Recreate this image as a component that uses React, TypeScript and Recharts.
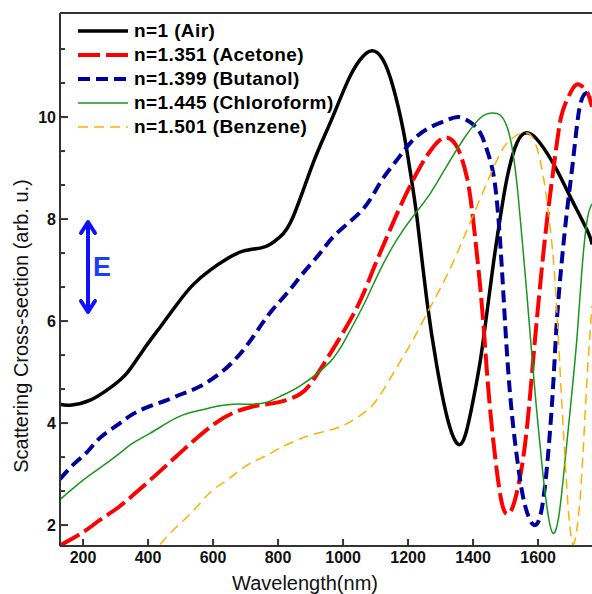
import React from 'react';
import { LineChart, Line, XAxis, YAxis, ReferenceLine, Customized } from 'recharts';

// [wavelength (nm), scattering cross-section (arb. u.)]
const air: [number, number][] = [
  [129, 4.37], [160, 4.35], [222, 4.45], [283, 4.69], [335, 4.98], [385, 5.43], [437, 5.88],
  [489, 6.33], [538, 6.71], [591, 7.0], [643, 7.22], [692, 7.37], [745, 7.43], [775, 7.5],
  [806, 7.65], [846, 8.04], [908, 9.1], [960, 9.88], [1012, 10.67], [1052, 11.12], [1089, 11.3],
  [1123, 11.12], [1154, 10.59], [1185, 9.75], [1206, 8.96], [1228, 8.0], [1258, 6.4],
  [1289, 5.1], [1320, 4.12], [1351, 3.6], [1380, 3.85], [1412, 4.84], [1431, 5.6], [1462, 7.1],
  [1483, 8.0], [1505, 8.82], [1535, 9.49], [1566, 9.69], [1606, 9.49], [1658, 8.96],
  [1698, 8.45], [1751, 7.78], [1766, 7.5],
];

const acetone: [number, number][] = [
  [129, 1.6], [200, 1.86], [252, 2.1], [305, 2.33], [354, 2.59], [406, 2.88], [458, 3.18],
  [508, 3.47], [560, 3.76], [612, 4.02], [662, 4.2], [714, 4.31], [766, 4.37], [815, 4.43],
  [868, 4.57], [908, 4.84], [969, 5.45], [1043, 6.27], [1092, 7.0], [1135, 7.65], [1185, 8.37],
  [1237, 9.02], [1277, 9.41], [1314, 9.6], [1351, 9.41], [1381, 8.82], [1400, 8.0], [1422, 6.67],
  [1437, 5.5], [1452, 4.3], [1474, 3.02], [1492, 2.35], [1508, 2.22], [1527, 2.45], [1554, 3.3],
  [1575, 4.51], [1590, 5.6], [1606, 6.67], [1628, 8.0], [1658, 9.49], [1677, 10.14],
  [1708, 10.57], [1729, 10.63], [1751, 10.49], [1766, 10.2],
];

const butanol: [number, number][] = [
  [129, 2.9], [169, 3.18], [212, 3.43], [252, 3.71], [305, 3.96], [354, 4.18], [406, 4.33],
  [458, 4.45], [508, 4.58], [560, 4.72], [622, 4.98], [674, 5.29], [723, 5.69],
  [775, 6.16], [828, 6.55], [877, 6.94], [929, 7.33], [982, 7.73], [1062, 8.2], [1114, 8.71],
  [1166, 9.16], [1215, 9.55], [1268, 9.8], [1320, 9.94], [1355, 10.0], [1391, 9.9], [1422, 9.69],
  [1443, 9.35], [1462, 8.9], [1477, 8.1], [1489, 7.0], [1498, 6.02], [1508, 5.04], [1520, 4.15],
  [1535, 3.33], [1554, 2.55], [1575, 2.1], [1591, 2.0], [1606, 2.16], [1622, 2.8], [1637, 3.86],
  [1648, 4.9], [1658, 6.02], [1672, 7.1], [1688, 8.1], [1705, 9.0], [1720, 9.85],
  [1732, 10.3], [1748, 10.47], [1766, 10.4],
];

const chloroform: [number, number][] = [
  [129, 2.5], [200, 2.88], [252, 3.12], [305, 3.37], [354, 3.61], [406, 3.8], [458, 4.0],
  [508, 4.16], [560, 4.25], [612, 4.33], [662, 4.37], [714, 4.37], [766, 4.41], [815, 4.55],
  [868, 4.73], [960, 5.2], [1012, 5.7], [1062, 6.3], [1114, 7.0], [1166, 7.6], [1215, 8.05],
  [1268, 8.5], [1320, 9.05], [1369, 9.55], [1422, 9.98], [1458, 10.08], [1483, 10.04],
  [1505, 9.8], [1523, 9.29], [1538, 8.51], [1551, 7.6], [1566, 6.5], [1580, 5.4],
  [1595, 4.3], [1615, 3.0], [1631, 2.2], [1646, 1.84], [1662, 2.1], [1677, 2.88],
  [1698, 4.2], [1720, 5.69], [1735, 7.0], [1751, 7.98], [1766, 8.3],
];

const benzene: [number, number][] = [
  [437, 1.62], [477, 1.9], [520, 2.16], [560, 2.43], [600, 2.69], [643, 2.88], [683, 3.08],
  [723, 3.24], [766, 3.37], [806, 3.51], [846, 3.63], [898, 3.76], [969, 3.88], [1021, 4.02],
  [1074, 4.25], [1114, 4.55], [1166, 5.1], [1215, 5.63], [1268, 6.27], [1320, 6.9],
  [1369, 7.6], [1412, 8.25], [1474, 9.16], [1514, 9.55], [1554, 9.69], [1585, 9.58],
  [1606, 9.16], [1622, 8.6], [1637, 7.84], [1652, 6.8], [1668, 5.0], [1680, 3.6], [1692, 2.4],
  [1700, 1.85], [1708, 1.62], [1718, 1.85], [1729, 2.5], [1740, 3.6], [1751, 4.9], [1766, 6.3],
];

const xTicks = [200, 400, 600, 800, 1000, 1200, 1400, 1600];
const yTicks = [2, 2.667, 3.333, 4, 4.667, 5.333, 6, 6.667, 7.333, 8, 8.667, 9.333, 10, 10.667, 11.333];
const yLabels = [2, 4, 6, 8, 10];

const X_MIN = 129;
const X_MAX = 1766;
const Y_MIN = 1.59;
const Y_MAX = 12.04;

const FONT = '"Liberation Sans", Arial, sans-serif';
const AXIS = '#333';

const series = [
  { name: 'n=1 (Air)', data: air, color: '#000000', width: 3.5, dash: undefined },
  { name: 'n=1.351 (Acetone)', data: acetone, color: '#ff0000', width: 4, dash: '22 6' },
  { name: 'n=1.399 (Butanol)', data: butanol, color: '#00009c', width: 4, dash: '12 6' },
  { name: 'n=1.445 (Chloroform)', data: chloroform, color: '#1b951f', width: 1.5, dash: undefined },
  { name: 'n=1.501 (Benzene)', data: benzene, color: '#ffb000', width: 1.5, dash: '10 6' },
];

const XTick = ({ x, y, payload }: any) => (
  <g>
    <line x1={x} x2={x} y1={y} y2={y - 7} stroke={AXIS} strokeWidth={2} />
    <text x={x} y={y + 17} textAnchor="middle" fontSize={16} fontWeight="bold" fontFamily={FONT} fill="#111">
      {payload.value}
    </text>
  </g>
);

const YTick = ({ x, y, payload }: any) => {
  const major = yLabels.includes(payload.value);
  return (
    <g>
      <line x1={x} x2={x + (major ? 8 : 5)} y1={y} y2={y} stroke={AXIS} strokeWidth={2} />
      {major && (
        <text x={x - 4} y={y + 6} textAnchor="end" fontSize={16} fontWeight="bold" fontFamily={FONT} fill="#111">
          {payload.value}
        </text>
      )}
    </g>
  );
};

const Overlay = () => (
  <g fontFamily={FONT}>
    {series.map((s, i) => (
      <g key={s.name}>
        <line x1={78} x2={128} y1={31 + i * 24} y2={31 + i * 24} stroke={s.color}
          strokeWidth={s.width} strokeDasharray={s.dash} />
        <text x={134} y={37 + i * 24} fontSize={19} fontWeight="bold" letterSpacing={0.4} fill="#000">{s.name}</text>
      </g>
    ))}
    <text x={305} y={590} textAnchor="middle" fontSize={20} fill="#111">Wavelength(nm)</text>
    <text x={0} y={0} transform="translate(28 326) rotate(-90)" textAnchor="middle" fontSize={20} fill="#111">
      Scattering Cross-section (arb. u.)
    </text>
    <g stroke="#1010ff" strokeWidth={4} fill="none" strokeLinecap="round" strokeLinejoin="round">
      <line x1={88} x2={88} y1={223} y2={311} />
      <polyline points="81,233 88,222 95,233" />
      <polyline points="81,301 88,312 95,301" />
    </g>
    <text x={93} y={276} fontSize={27} fontWeight="bold" fill="#1a3cff">E</text>
  </g>
);

export default function App() {
  return (
    <div style={{ position: 'absolute', left: 0, top: 0, width: 592, height: 594, background: '#fff' }}>
      <LineChart width={592} height={594} margin={{ top: 13, right: 0, bottom: 0, left: 0 }}>
        <XAxis type="number" dataKey="x" domain={[X_MIN, X_MAX]} ticks={xTicks} allowDataOverflow
          height={48} tickSize={0} tickMargin={0} tick={<XTick />} axisLine={{ stroke: AXIS, strokeWidth: 2 }}
          tickLine={false} interval={0} />
        <YAxis type="number" domain={[Y_MIN, Y_MAX]} ticks={yTicks} allowDataOverflow
          width={60} tickSize={0} tickMargin={0} tick={<YTick />} axisLine={{ stroke: AXIS, strokeWidth: 2 }}
          tickLine={false} interval={0} />
        <ReferenceLine y={Y_MAX} stroke={AXIS} strokeWidth={2} ifOverflow="visible" />
        {series.map((s) => (
          <Line key={s.name} data={s.data.map(([x, y]) => ({ x, y }))} dataKey="y" type="natural"
            stroke={s.color} strokeWidth={s.width} strokeDasharray={s.dash} dot={false}
            activeDot={false} isAnimationActive={false} />
        ))}
        <Customized component={Overlay} />
      </LineChart>
    </div>
  );
}
